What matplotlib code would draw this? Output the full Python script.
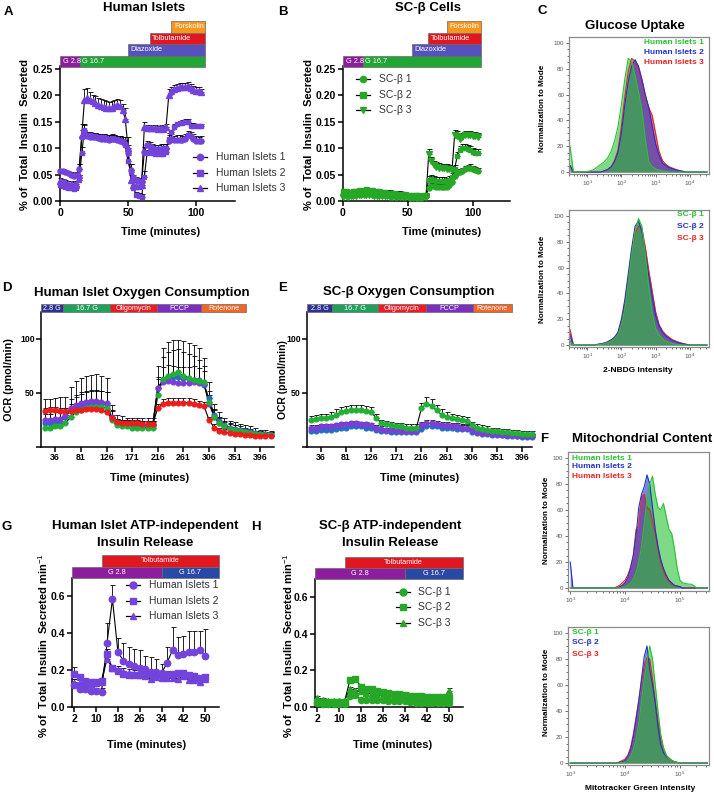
import numpy as np
import matplotlib
matplotlib.use("Agg")
import matplotlib.pyplot as plt
from matplotlib.patches import Rectangle
from matplotlib.lines import Line2D
from matplotlib.ticker import MultipleLocator, LogLocator, NullFormatter

plt.rcParams['font.family'] = ['Liberation Sans', 'DejaVu Sans']
plt.rcParams['mathtext.fontset'] = 'custom'
plt.rcParams['mathtext.rm'] = 'Liberation Sans'
plt.rcParams['mathtext.bf'] = 'Liberation Sans:bold'

# ---------------- DATA ----------------
# A: Human islets perifusion (time in minutes)
A_t = np.arange(0, 105, 2)
A_hi1 = [0.057,0.056,0.054,0.052,0.050,0.048,0.050,0.060,0.120,0.132,
         0.122,0.121,0.120,0.120,0.119,0.118,0.118,0.117,0.116,0.118,
         0.117,0.115,0.114,0.112,0.108,0.090,0.058,0.045,0.040,0.038,
         0.036,0.092,0.105,0.103,0.100,0.098,0.098,0.099,0.100,0.100,
         0.113,0.118,0.115,0.116,0.116,0.115,0.118,0.125,0.122,0.118,
         0.114,0.113,0.114]
A_hi2 = [0.030,0.028,0.027,0.025,0.024,0.022,0.025,0.040,0.090,0.135,
         0.125,0.124,0.123,0.122,0.121,0.120,0.120,0.119,0.118,0.119,
         0.118,0.117,0.116,0.114,0.105,0.075,0.055,0.025,0.012,0.010,
         0.008,0.045,0.090,0.092,0.090,0.089,0.089,0.088,0.089,0.092,
         0.118,0.130,0.140,0.145,0.147,0.148,0.150,0.150,0.142,0.142,
         0.141,0.141,0.141]
A_hi3 = [0.038,0.036,0.035,0.033,0.032,0.030,0.033,0.050,0.125,0.190,
         0.195,0.190,0.189,0.186,0.182,0.180,0.178,0.176,0.175,0.176,
         0.179,0.181,0.179,0.172,0.155,0.100,0.040,0.030,0.028,0.028,
         0.030,0.140,0.138,0.137,0.138,0.137,0.136,0.137,0.136,0.140,
         0.200,0.208,0.212,0.214,0.215,0.215,0.216,0.218,0.214,0.210,
         0.208,0.208,0.205]
A_err1 = [0.004,0.004,0.004,0.004,0.004,0.004,0.004,0.010,0.015,0.012,
          0.008,0.008,0.008,0.008,0.008,0.008,0.008,0.008,0.008,0.008,
          0.008,0.008,0.008,0.008,0.012,0.015,0.012,0.005,0.005,0.005,
          0.005,0.010,0.008,0.008,0.008,0.008,0.008,0.008,0.008,0.008,
          0.012,0.008,0.008,0.008,0.008,0.008,0.008,0.008,0.008,0.008,
          0.008,0.008,0.008]
A_err2 = [0.003,0.003,0.003,0.003,0.003,0.003,0.003,0.010,0.012,0.010,
          0.006,0.006,0.006,0.006,0.006,0.006,0.006,0.006,0.006,0.006,
          0.006,0.006,0.006,0.006,0.010,0.012,0.015,0.005,0.005,0.005,
          0.005,0.012,0.006,0.006,0.006,0.006,0.006,0.006,0.006,0.006,
          0.010,0.005,0.005,0.005,0.005,0.005,0.005,0.005,0.005,0.005,
          0.005,0.005,0.005]
A_err3 = [0.005,0.005,0.005,0.005,0.005,0.005,0.005,0.020,0.020,0.022,
          0.018,0.016,0.012,0.012,0.012,0.012,0.012,0.012,0.012,0.012,
          0.012,0.012,0.012,0.012,0.020,0.020,0.010,0.008,0.008,0.008,
          0.008,0.010,0.006,0.006,0.006,0.006,0.006,0.006,0.006,0.006,
          0.012,0.007,0.007,0.007,0.007,0.007,0.007,0.007,0.007,0.007,
          0.007,0.007,0.007]

# B: SC-beta perifusion
B_t = np.arange(0, 105, 2)
B_sc1 = [0.012,0.013,0.012,0.013,0.012,0.014,0.015,0.014,0.015,0.016,
         0.015,0.014,0.014,0.013,0.013,0.012,0.012,0.012,0.011,0.011,
         0.011,0.010,0.010,0.010,0.009,0.009,0.009,0.009,0.009,0.008,
         0.008,0.009,0.010,0.025,0.028,0.028,0.027,0.027,0.026,0.026,
         0.027,0.030,0.035,0.048,0.052,0.055,0.057,0.060,0.062,0.063,
         0.061,0.059,0.057]
B_sc2 = [0.018,0.018,0.017,0.017,0.018,0.019,0.020,0.019,0.020,0.022,
         0.021,0.020,0.019,0.018,0.018,0.017,0.017,0.016,0.016,0.015,
         0.015,0.014,0.014,0.013,0.013,0.012,0.012,0.011,0.011,0.011,
         0.010,0.011,0.012,0.040,0.042,0.040,0.038,0.038,0.037,0.037,
         0.036,0.040,0.045,0.060,0.085,0.096,0.100,0.100,0.098,0.096,
         0.093,0.091,0.090]
B_sc3 = [0.008,0.009,0.008,0.009,0.010,0.010,0.011,0.011,0.012,0.012,
         0.011,0.011,0.010,0.010,0.010,0.009,0.009,0.009,0.008,0.008,
         0.008,0.008,0.007,0.007,0.007,0.007,0.006,0.006,0.006,0.006,
         0.006,0.007,0.008,0.088,0.075,0.068,0.065,0.063,0.062,0.062,
         0.061,0.060,0.058,0.125,0.122,0.118,0.120,0.124,0.125,0.124,
         0.123,0.122,0.121]
B_err1 = [0.003,0.003,0.003,0.003,0.003,0.003,0.003,0.003,0.003,0.003,
          0.003,0.003,0.003,0.003,0.003,0.003,0.003,0.003,0.003,0.003,
          0.003,0.003,0.003,0.003,0.003,0.003,0.003,0.003,0.003,0.003,
          0.003,0.003,0.003,0.006,0.006,0.006,0.006,0.006,0.006,0.006,
          0.006,0.006,0.006,0.006,0.006,0.006,0.006,0.006,0.006,0.006,
          0.006,0.006,0.006]
B_err2 = [0.004,0.004,0.004,0.004,0.004,0.004,0.004,0.004,0.004,0.004,
          0.004,0.004,0.004,0.004,0.004,0.004,0.004,0.004,0.004,0.004,
          0.004,0.004,0.004,0.004,0.004,0.004,0.004,0.004,0.004,0.004,
          0.004,0.004,0.004,0.008,0.008,0.008,0.008,0.008,0.008,0.008,
          0.008,0.008,0.008,0.008,0.008,0.008,0.008,0.008,0.008,0.008,
          0.008,0.008,0.008]
B_err3 = [0.003,0.003,0.003,0.003,0.003,0.003,0.003,0.003,0.003,0.003,
          0.003,0.003,0.003,0.003,0.003,0.003,0.003,0.003,0.003,0.003,
          0.003,0.003,0.003,0.003,0.003,0.003,0.003,0.003,0.003,0.003,
          0.003,0.003,0.003,0.010,0.008,0.008,0.008,0.008,0.008,0.008,
          0.008,0.008,0.008,0.010,0.010,0.008,0.008,0.008,0.008,0.008,
          0.008,0.008,0.008]

# C: glucose uptake histograms (x in log10 units, y normalized to mode)
C_log = np.round(np.arange(0.5, 4.51, 0.1), 2)
C_hi1 = [20,0,0,0,0.3,0.5,1,2,4,6,8,11,16,24,35,52,72,88,86,75,62,48,25,8,4,2.5,1.5,1,0.5,
         0,0,0,0,0,0,0,0,0,0,0,0]
C_hi2 = [5,0,0,0,0,0,0,0,0,0,1,2,4,8,15,30,52,70,82,87,82,72,60,50,36,22,13,7,5,3.5,2.5,1.5,1,0.5,
         0,0,0,0,0,0,0]
C_hi3 = [5,0,0,0,0,0,0,0,0,0,1,2,4,9,17,35,58,78,88,86,80,70,58,50,44,30,16,9,6,4,3,2,1.2,0.6,
         0,0,0,0,0,0,0]
C_sc1 = [3,0,0,0,0,0,0,0,0.3,0.6,1,2,3,5,8,15,28,48,70,88,98,92,70,45,25,13,8,5,3,2,1.2,0.6,0.3,
         0,0,0,0,0,0,0,0]
C_sc2 = [8,0,0,0,0,0,0,0,0.5,1,1.5,2.5,4,6,10,20,35,55,75,92,96,88,72,54,38,23,15,10,7,5,3.5,2.5,1.5,
         1,0.5,0,0,0,0,0,0]
C_sc3 = [12,0,0,0,0,0,0,0,0.5,1,1.5,2.5,4,6,9,17,32,52,72,86,92,90,76,58,42,26,16,11,8,6,4,3,2,
         1.2,0.6,0,0,0,0,0,0]

# D: human islet OCR (pmol/min)
D_t = np.arange(18, 415, 9)
D_red = [33,34,34,33, 33,33,34,34,35,35,35,34,32, 27,23,22,22,22,22,21,21,21,
         36,40,41,41,41,41,41,40,39,38, 25,18,15,14,13,12,12,11,11,10,10,10,10]
D_green = [18,18,19,19, 22,28,32,34,36,37,37,37,36, 25,20,19,19,18,18,18,18,18,
           48,63,66,68,69,66,64,62,61,60, 42,28,22,19,17,16,15,14,13,12,12,11,11]
D_purple = [25,25,26,26, 30,36,39,41,42,43,43,42,41, 28,22,21,21,20,20,20,20,20,
            55,60,61,60,59,59,59,60,59,58, 40,28,22,19,17,16,15,14,13,12,12,11,11]
D_blue = [22,22,23,23, 28,34,37,39,40,40,41,40,39, 27,22,21,20,20,20,20,20,20,
          55,62,64,65,65,64,63,62,62,57, 45,30,24,20,18,17,16,15,14,13,12,12,11]
D_err_red = [3,3,3,3, 3,3,3,3,3,3,3,3,3, 3,3,3,3,3,3,3,3,3,
             4,4,4,4,4,4,4,4,4,4, 3,3,3,3,3,3,3,3,3,3,3,3,3]
D_err_green = [8,8,8,8, 8,12,14,15,15,15,15,15,15, 8,5,5,5,5,5,5,5,5,
               15,20,22,22,22,22,22,22,20,15, 10,7,6,5,5,4,4,4,4,3,3,3,3]
D_err_purple = [6,6,6,6, 6,8,9,10,10,10,10,10,10, 6,4,4,4,4,4,4,4,4,
                10,14,15,15,15,15,15,15,14,12, 8,6,5,4,4,4,3,3,3,3,3,3,3]
D_err_blue = [22,22,22,23, 18,22,24,25,26,27,27,26,25, 12,8,8,7,7,7,7,7,7,
              20,30,33,34,34,34,33,32,30,25, 15,10,8,7,6,6,5,5,5,5,4,4,4]

# E: SC-beta OCR
E_t = np.arange(18, 415, 9)
E_green = [25,26,27,27, 28,30,32,33,34,34,34,33,32, 27,22,21,20,19,19,18,18,18,
           36,40,38,34,30,28,27,26,25,24, 20,18,17,16,15,15,14,14,13,13,12,12,12]
E_purple = [18,18,19,19, 19,20,21,21,22,22,21,21,20, 18,17,16,16,16,15,15,15,15,
            20,22,22,21,20,20,19,19,18,18, 16,14,13,13,12,12,11,11,11,10,10,10,10]
E_blue = [15,15,16,16, 16,17,18,18,19,19,19,18,18, 16,15,15,14,14,14,14,14,14,
          17,19,19,19,18,18,18,17,17,17, 14,13,12,12,11,11,11,10,10,10,9,9,9]
E_err_green = [4,4,4,4, 4,5,5,5,5,5,5,5,5, 4,3,3,3,3,3,3,3,3,
               5,6,6,5,5,4,4,4,4,4, 3,3,3,3,3,3,3,3,3,3,3,3,3]
E_err_purple = [2,2,2,2, 2,2,2,2,2,2,2,2,2, 2,2,2,2,2,2,2,2,2,
                3,3,3,3,3,3,3,3,3,3, 2,2,2,2,2,2,2,2,2,2,2,2,2]
E_err_blue = [2,2,2,2, 2,2,2,2,2,2,2,2,2, 2,2,2,2,2,2,2,2,2,
              3,3,3,3,3,3,3,3,3,3, 2,2,2,2,2,2,2,2,2,2,2,2,2]

# F: mitochondrial content histograms
F_log = np.round(np.arange(3.0, 5.501, 0.05), 2)
F_hi1 = [0]*20 + [1,2,4,7,12,20,32,50,68,80,86,72,62,60,65,55,45,42,30,15,6,4,3.5,3,3,2,0] + [0]*4
F_hi2 = [20] + [0]*17 + [1,2,4,8,15,25,40,62,72,78,87,80,62,45,32,22,15,10,6,4,2,1.5,1] + [0]*10
F_hi3 = [0]*17 + [1] + [2,4,6,10,16,25,45,48,70,72,62,60,52,42,30,20,13,8,5,3,2,1.5,1] + [0]*10
F_sc1 = [0]*18 + [0,0.3,0.5,2,5,10,18,30,48,65,78,90,80,60,40,22,12,6,3,2,1,0.5,0] + [0]*10
F_sc2 = [0]*18 + [0.5,1,2,5,10,20,33,48,65,82,90,72,60,46,28,14,8,5,3,2,1,0.5,0] + [0]*10
F_sc3 = [0]*18 + [1,2,3,6,12,22,35,48,62,75,81,80,65,48,32,18,11,6,4,2,1,0.5,0] + [0]*10

# G / H: ATP-independent insulin release
G_t = np.arange(2, 51, 2)
G_hi1 = [0.12,0.095,0.095,0.088,0.085,0.083,0.345,0.585,0.30,0.25,0.235,0.225,0.21,
         0.205,0.19,0.19,0.185,0.24,0.31,0.28,0.285,0.30,0.30,0.31,0.275]
G_hi2 = [0.18,0.165,0.14,0.135,0.135,0.14,0.285,0.21,0.195,0.18,0.175,0.175,0.175,
         0.175,0.18,0.175,0.175,0.18,0.18,0.185,0.185,0.175,0.17,0.155,0.165]
G_hi3 = [0.13,0.13,0.125,0.125,0.13,0.135,0.26,0.21,0.20,0.19,0.185,0.18,0.175,
         0.17,0.15,0.165,0.16,0.155,0.16,0.15,0.17,0.145,0.145,0.135,0.15]
G_err1 = [0.03,0.02,0.02,0.02,0.02,0.02,0.11,0.075,0.075,0.10,0.09,0.09,0.10,
          0.07,0.08,0.07,0.05,0.085,0.125,0.10,0.10,0.11,0.11,0.105,0.15]
G_err2 = [0.035,0.015,0.015,0.015,0.015,0.015,0.03,0.02,0.015,0.015,0.015,0.015,0.015,
          0.015,0.015,0.015,0.015,0.015,0.015,0.015,0.015,0.015,0.015,0.015,0.015]
G_err3 = [0.02,0.02,0.02,0.02,0.02,0.02,0.02,0.02,0.02,0.02,0.02,0.02,0.02,
          0.02,0.02,0.02,0.02,0.02,0.02,0.02,0.02,0.02,0.02,0.02,0.02]
H_t = np.arange(2, 51, 2)
H_sc1 = [0.02,0.015,0.015,0.015,0.015,0.015,0.06,0.065,0.04,0.04,0.038,0.037,0.036,
         0.035,0.034,0.034,0.033,0.025,0.024,0.024,0.023,0.022,0.022,0.021,0.02]
H_sc2 = [0.03,0.03,0.03,0.028,0.028,0.03,0.15,0.155,0.11,0.10,0.10,0.09,0.08,
         0.075,0.07,0.07,0.065,0.06,0.06,0.058,0.056,0.055,0.055,0.053,0.05]
H_sc3 = [0.05,0.04,0.035,0.035,0.035,0.035,0.10,0.09,0.085,0.075,0.07,0.065,0.06,
         0.058,0.055,0.052,0.05,0.04,0.04,0.04,0.04,0.04,0.04,0.04,0.09]
H_err = [0.008,0.008,0.008,0.008,0.008,0.008,0.012,0.012,0.01,0.01,0.01,0.01,0.01,
         0.008,0.008,0.008,0.008,0.008,0.008,0.008,0.008,0.008,0.008,0.008,0.012]

# labels
HI_labels = ['Human Islets 1', 'Human Islets 2', 'Human Islets 3']
SC_labels = ['SC-\u03b2 1', 'SC-\u03b2 2', 'SC-\u03b2 3']

# ---------------- STYLE ----------------
PURPLE = '#7443dc'
GREEN = '#26a826'
C_G28 = '#8c1d9c'
C_G167 = '#1fa635'
C_DIAZ = '#5750bd'
C_TOLB = '#e01620'
C_FORSK = '#f7961e'
C_BLUEG = '#2a48a6'
OCR_COLS = ['#2e3192', '#1fa35c', '#ed1c24', '#7b2fbe', '#f26522']
H_GREEN, H_BLUE, H_RED = '#28c232', '#2233cc', '#ee2222'

W, H = 714, 795
fig = plt.figure(figsize=(W / 100, H / 100), dpi=100)
fig.patch.set_facecolor('white')


def add_ax(l, t, r, b):
    return fig.add_axes([l / W, 1 - b / H, (r - l) / W, (b - t) / H])


def ftext(x, y, s, **kw):
    kw.setdefault('ha', 'center')
    kw.setdefault('va', 'center')
    return fig.text(x / W, 1 - y / H, s, **kw)


def style_xy(ax, xt, xl, yt, yl, fs, pad=1.5):
    for s in ['top', 'right']:
        ax.spines[s].set_visible(False)
    for s in ['left', 'bottom']:
        ax.spines[s].set_linewidth(1.1)
    ax.set_xticks(xt, xl, fontweight='bold', fontsize=fs)
    ax.set_yticks(yt, yl, fontweight='bold', fontsize=fs)
    ax.tick_params(direction='out', length=3.5, width=1.1, pad=pad)


def series(ax, t, y, err, marker, color, ms, lw=0.8):
    y = np.asarray(y, float)
    err = np.asarray(err, float)
    ax.errorbar(t, y, yerr=[np.zeros_like(err), err], fmt='none', ecolor='k',
                elinewidth=0.6, capsize=1.8, capthick=0.6, zorder=2, clip_on=False)
    ax.plot(t, y, color='k', lw=lw, zorder=3, clip_on=False)
    ax.plot(t, y, ls='none', marker=marker, ms=ms, mfc=color, mec=color,
            zorder=4, clip_on=False)


def protocol(l, t, r, b, xlim, nrows, bars, fs, center):
    bax = add_ax(l, t, r, b)
    bax.set_xlim(xlim)
    bax.set_ylim(0, nrows)
    bax.axis('off')
    pad = (xlim[1] - xlim[0]) / (r - l) * 2.5
    for row, s, e, c, lab in bars:
        bax.add_patch(Rectangle((s, row), e - s, 1, fc=c, ec='#6a6a6a', lw=0.5,
                                clip_on=False))
        if center:
            bax.text((s + e) / 2, row + 0.5, lab, ha='center', va='center',
                     color='white', fontsize=fs)
        else:
            bax.text(s + pad, row + 0.5, lab, ha='left', va='center',
                     color='white', fontsize=fs)
    return bax


def mlegend(labels, markers, color, xm, xt, ys, fs, ms):
    for lab, mk, y in zip(labels, markers, ys):
        fig.add_artist(Line2D([(xm - 7) / W, (xm + 7) / W], [1 - y / H] * 2,
                              color='k', lw=0.9, transform=fig.transFigure))
        fig.add_artist(Line2D([xm / W], [1 - y / H], marker=mk, ms=ms, mfc=color,
                              mec=color, ls='none', transform=fig.transFigure))
        ftext(xt, y, lab, ha='left', fontsize=fs, color='#333333')


def hist_panel(l, t, r, b, logx, curves, xl, exps, ylim):
    ax = add_ax(l, t, r, b)
    x = 10 ** np.asarray(logx)
    for y, c in curves:
        ax.fill_between(x, y, 0, color=c, alpha=0.6, lw=0)
        ax.plot(x, y, color=c, lw=0.8)
    ax.set_xscale('log')
    ax.set_xlim(10 ** xl[0], 10 ** xl[1])
    ax.set_ylim(ylim)
    ax.set_xticks([10.0 ** e for e in exps], [r'$10^{%d}$' % e for e in exps])
    ax.xaxis.set_minor_locator(LogLocator(base=10, subs=np.arange(2, 10)))
    ax.xaxis.set_minor_formatter(NullFormatter())
    ax.set_yticks([0, 20, 40, 60, 80, 100], ['0', '20', '40', '60', '80', '100'])
    ax.yaxis.set_minor_locator(MultipleLocator(5))
    for s in ax.spines.values():
        s.set_color('#8a8a8a')
        s.set_linewidth(0.9)
    ax.tick_params(which='both', colors='#555555', labelsize=4.5, width=0.6, pad=1)
    ax.tick_params(which='major', length=2.5)
    ax.tick_params(which='minor', length=1.3)
    return ax


# ---------------- PANEL A ----------------
axA = add_ax(60, 66, 235, 201)
axA.set_xlim(0, 128.7)
axA.set_ylim(0, 0.255)
series(axA, A_t, A_hi1, A_err1, 'o', PURPLE, 3.6)
series(axA, A_t, A_hi2, A_err2, 's', PURPLE, 3.4)
series(axA, A_t, A_hi3, A_err3, '^', PURPLE, 3.8)
style_xy(axA, [0, 50, 100], ['0', '50', '100'],
         [0, 0.05, 0.10, 0.15, 0.20, 0.25],
         ['0.00', '0.05', '0.10', '0.15', '0.20', '0.25'], 7.5)
protocol(60, 21, 235, 67, (0, 128.7), 4,
         [(0, 0, 14.7, C_G28, 'G 2.8'), (0, 14.7, 106.5, C_G167, 'G 16.7'),
          (1, 50, 106.5, C_DIAZ, 'Diazoxide'), (2, 66, 106.5, C_TOLB, 'Tolbutamide'),
          (3, 82, 106.5, C_FORSK, 'Forskolin')], 5.3, False)
mlegend(HI_labels, ['o', 's', '^'], PURPLE, 200, 216, [157, 173, 188], 7.5, 4.5)
ftext(144, 8, 'Human Islets', fontsize=9.5, fontweight='bold')
ftext(8, 12, 'A', fontsize=9.5, fontweight='bold')
ftext(161, 232, 'Time (minutes)', fontsize=8, fontweight='bold')
ftext(25, 134, '% of  Total  Insulin  Secreted', fontsize=8, fontweight='bold', rotation=90)

# ---------------- PANEL B ----------------
axB = add_ax(343, 66, 510, 201)
axB.set_xlim(0, 128.7)
axB.set_ylim(0, 0.255)
series(axB, B_t, B_sc1, B_err1, 'o', GREEN, 3.6)
series(axB, B_t, B_sc2, B_err2, 's', GREEN, 3.4)
series(axB, B_t, B_sc3, B_err3, 'v', GREEN, 3.8)
style_xy(axB, [0, 50, 100], ['0', '50', '100'],
         [0, 0.05, 0.10, 0.15, 0.20, 0.25],
         ['0.00', '0.05', '0.10', '0.15', '0.20', '0.25'], 7.5)
protocol(343, 21, 510, 67, (0, 128.7), 4,
         [(0, 0, 15.4, C_G28, 'G 2.8'), (0, 15.4, 106, C_G167, 'G 16.7'),
          (1, 53, 106, C_DIAZ, 'Diazoxide'), (2, 65.4, 106, C_TOLB, 'Tolbutamide'),
          (3, 80, 106, C_FORSK, 'Forskolin')], 5.3, False)
mlegend(SC_labels, ['o', 's', 'v'], GREEN, 363, 379, [79, 95, 110], 7.5, 4.5)
ftext(428, 8, 'SC-\u03b2 Cells', fontsize=9.5, fontweight='bold')
ftext(283, 12, 'B', fontsize=9.5, fontweight='bold')
ftext(442, 232, 'Time (minutes)', fontsize=8, fontweight='bold')
ftext(309, 134, '% of  Total  Insulin  Secreted', fontsize=8, fontweight='bold', rotation=90)

# ---------------- PANEL C ----------------
hist_panel(569, 37, 709, 174, C_log,
           [(C_hi3, H_RED), (C_hi2, H_BLUE), (C_hi1, H_GREEN)],
           (0.47, 4.56), [1, 2, 3, 4], (-1.5, 104.6))
hist_panel(569, 210, 709, 347, C_log,
           [(C_sc3, H_RED), (C_sc2, H_BLUE), (C_sc1, H_GREEN)],
           (0.47, 4.56), [1, 2, 3, 4], (-1.5, 104.6))
ftext(635, 26, 'Glucose Uptake', fontsize=9.5, fontweight='bold')
ftext(542, 11, 'C', fontsize=9.5, fontweight='bold')
for lab, c, y in zip(HI_labels, [H_GREEN, H_BLUE, H_RED], [43, 53, 62]):
    ftext(704, y, lab, ha='right', fontsize=6, fontweight='bold', color=c)
for lab, c, y in zip(SC_labels, [H_GREEN, H_BLUE, H_RED], [215, 227, 238]):
    ftext(704, y, lab, ha='right', fontsize=6, fontweight='bold', color=c)
ftext(543, 108, 'Normalization to Mode', fontsize=5.9, fontweight='bold', rotation=90)
ftext(543, 279, 'Normalization to Mode', fontsize=5.9, fontweight='bold', rotation=90)
ftext(638, 370, '2-NBDG Intensity', fontsize=6, fontweight='bold')

# ---------------- PANEL D ----------------
axD = add_ax(41, 312, 274, 447)
axD.set_xlim(11, 420)
axD.set_ylim(0, 125)
series(axD, D_t, D_blue, D_err_blue, 'o', '#2a6cc4', 3.4)
series(axD, D_t, D_purple, D_err_purple, 'o', '#7b3fd8', 3.4)
series(axD, D_t, D_green, D_err_green, 'o', '#22b035', 3.4)
series(axD, D_t, D_red, D_err_red, 'o', '#ee1c1c', 3.4)
style_xy(axD, [36, 81, 126, 171, 216, 261, 306, 351, 396],
         ['36', '81', '126', '171', '216', '261', '306', '351', '396'],
         [0, 50, 100], ['', '50', '100'], 6.3, pad=1)
protocol(41, 304, 274, 312, (11, 420), 1,
         [(0, 11, 50, OCR_COLS[0], '2.8 G'), (0, 50, 132, OCR_COLS[1], '16.7 G'),
          (0, 132, 215, OCR_COLS[2], 'Oligomycin'), (0, 215, 292, OCR_COLS[3], 'FCCP'),
          (0, 292, 371, OCR_COLS[4], 'Rotenone')], 5.2, True)
ftext(142, 293, 'Human Islet Oxygen Consumption', fontsize=9.5, fontweight='bold')
ftext(7, 288, 'D', fontsize=9.5, fontweight='bold')
ftext(150, 478, 'Time (minutes)', fontsize=8, fontweight='bold')
ftext(9, 380, 'OCR (pmol/min)', fontsize=7.8, fontweight='bold', rotation=90)

# ---------------- PANEL E ----------------
axE = add_ax(307, 312, 532, 447)
axE.set_xlim(11, 414)
axE.set_ylim(0, 125)
series(axE, E_t, E_blue, E_err_blue, 'o', '#2a6cc4', 3.4)
series(axE, E_t, E_purple, E_err_purple, 'o', '#7b3fd8', 3.4)
series(axE, E_t, E_green, E_err_green, 'o', '#22b035', 3.4)
style_xy(axE, [36, 81, 126, 171, 216, 261, 306, 351, 396],
         ['36', '81', '126', '171', '216', '261', '306', '351', '396'],
         [0, 50, 100], ['', '50', '100'], 6.3, pad=1)
protocol(307, 304, 532, 312, (11, 414), 1,
         [(0, 11, 56, OCR_COLS[0], '2.8 G'), (0, 56, 138, OCR_COLS[1], '16.7 G'),
          (0, 138, 224, OCR_COLS[2], 'Oligomycin'), (0, 224, 308, OCR_COLS[3], 'FCCP'),
          (0, 308, 378, OCR_COLS[4], 'Rotenone')], 5.2, True)
ftext(409, 292, 'SC-\u03b2 Oxygen Consumption', fontsize=9.5, fontweight='bold')
ftext(283, 288, 'E', fontsize=9.5, fontweight='bold')
ftext(420, 478, 'Time (minutes)', fontsize=8, fontweight='bold')
ftext(283, 380, 'OCR (pmol/min)', fontsize=7.5, fontweight='bold', rotation=90)

# ---------------- PANEL F ----------------
hist_panel(568, 452, 709, 591, F_log,
           [(F_hi3, H_RED), (F_hi2, H_BLUE), (F_hi1, H_GREEN)],
           (2.96, 5.53), [3, 4, 5], (-2.3, 104.6))
hist_panel(568, 627, 709, 765, F_log,
           [(F_sc3, H_RED), (F_sc2, H_BLUE), (F_sc1, H_GREEN)],
           (2.96, 5.53), [3, 4, 5], (-1.5, 104.6))
ftext(642, 439, 'Mitochondrial Content', fontsize=9.5, fontweight='bold')
ftext(544, 439, 'F', fontsize=9.5, fontweight='bold')
for lab, c, y in zip(HI_labels, [H_GREEN, H_BLUE, H_RED], [458, 467, 477]):
    ftext(572, y, lab, ha='left', fontsize=6, fontweight='bold', color=c)
for lab, c, y in zip(SC_labels, [H_GREEN, H_BLUE, H_RED], [633, 643, 654]):
    ftext(572, y, lab, ha='left', fontsize=6, fontweight='bold', color=c)
ftext(547, 520, 'Normalization to Mode', fontsize=5.9, fontweight='bold', rotation=90)
ftext(547, 692, 'Normalization to Mode', fontsize=5.9, fontweight='bold', rotation=90)
ftext(640, 788, 'Mitotracker Green Intensity', fontsize=6, fontweight='bold')

# ---------------- PANEL G ----------------
axG = add_ax(72, 578, 219, 707)
axG.set_xlim(1.2, 55)
axG.set_ylim(0, 0.70)
series(axG, G_t, G_hi1, G_err1, 'o', PURPLE, 4.6)
series(axG, G_t, G_hi2, G_err2, 's', PURPLE, 4.2)
series(axG, G_t, G_hi3, G_err3, '^', PURPLE, 4.4)
style_xy(axG, [2, 10, 18, 26, 34, 42, 50], ['2', '10', '18', '26', '34', '42', '50'],
         [0, 0.2, 0.4, 0.6], ['0.0', '0.2', '0.4', '0.6'], 7.5)
protocol(72, 555, 219, 578, (1.2, 55), 2,
         [(0, 1.2, 34, C_G28, 'G 2.8'), (0, 34, 55, C_BLUEG, 'G 16.7'),
          (1, 12, 55, C_TOLB, 'Tolbutamide')], 5.2, True)
mlegend(HI_labels, ['o', 's', '^'], PURPLE, 133, 149, [585, 601, 616], 7.5, 5)
ftext(145, 526, 'Human Islet ATP-independent', fontsize=9.5, fontweight='bold')
ftext(145, 543, 'Insulin Release', fontsize=9.5, fontweight='bold')
ftext(7, 527, 'G', fontsize=9.5, fontweight='bold')
ftext(147, 745, 'Time (minutes)', fontsize=8, fontweight='bold')
ftext(43, 646, '% of  Total  Insulin  Secreted min$^{-1}$', fontsize=8,
      fontweight='bold', rotation=90)

# ---------------- PANEL H ----------------
axH = add_ax(315, 579, 463, 707)
axH.set_xlim(1.2, 55.3)
axH.set_ylim(0, 0.70)
series(axH, H_t, H_sc1, H_err, 'o', GREEN, 4.4)
series(axH, H_t, H_sc2, H_err, 's', GREEN, 4.2)
series(axH, H_t, H_sc3, H_err, '^', GREEN, 4.4)
style_xy(axH, [2, 10, 18, 26, 34, 42, 50], ['2', '10', '18', '26', '34', '42', '50'],
         [0, 0.2, 0.4, 0.6], ['0.0', '0.2', '0.4', '0.6'], 7.5)
protocol(315, 557, 463, 579, (1.2, 55.3), 2,
         [(0, 1.2, 34, C_G28, 'G 2.8'), (0, 34, 55.3, C_BLUEG, 'G 16.7'),
          (1, 12, 55.3, C_TOLB, 'Tolbutamide')], 5.2, True)
mlegend(SC_labels, ['o', 's', '^'], GREEN, 403, 418, [592, 607, 623], 7.5, 5)
ftext(390, 526, 'SC-\u03b2 ATP-independent', fontsize=9.5, fontweight='bold')
ftext(390, 543, 'Insulin Release', fontsize=9.5, fontweight='bold')
ftext(256, 527, 'H', fontsize=9.5, fontweight='bold')
ftext(393, 745, 'Time (minutes)', fontsize=8, fontweight='bold')
ftext(288, 646, '% of  Total  Insulin  Secreted min$^{-1}$', fontsize=8,
      fontweight='bold', rotation=90)

fig.savefig('out.png', dpi=100, facecolor='white')
